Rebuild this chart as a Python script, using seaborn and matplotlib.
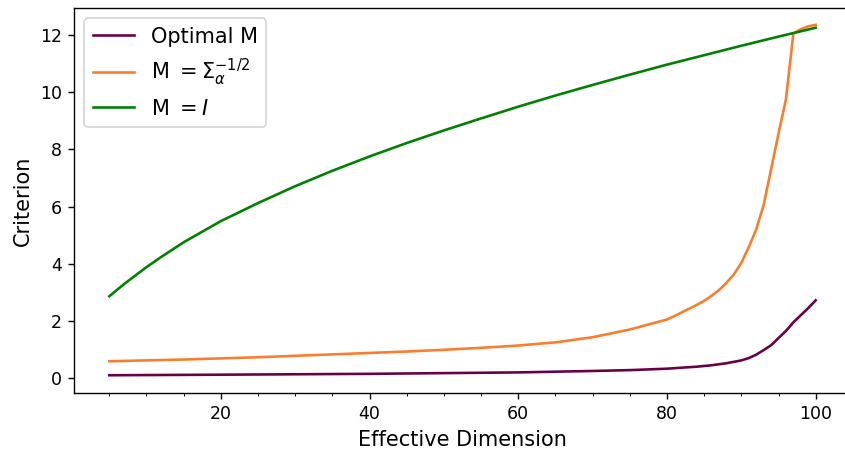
import matplotlib
matplotlib.use("Agg")
import matplotlib.pyplot as plt
from matplotlib.ticker import MultipleLocator
import seaborn as sns
import pandas as pd

# Effective dimension samples
x_green = [5, 6, 7, 8, 10, 12, 15, 20, 25, 30, 35, 40, 45, 50, 55, 60, 65, 70, 75, 80, 85, 90, 95, 100]
y_green = [2.86, 3.08, 3.29, 3.49, 3.88, 4.24, 4.75, 5.49, 6.12, 6.71, 7.25, 7.75, 8.22, 8.66, 9.08,
           9.49, 9.88, 10.25, 10.61, 10.96, 11.29, 11.62, 11.94, 12.25]

x_orange = [5, 10, 15, 20, 25, 30, 35, 40, 45, 50, 55, 60, 65, 70, 75, 80, 81, 82, 83, 84, 85,
            86, 87, 88, 89, 90, 91, 92, 93, 94, 95, 96, 97, 98, 99, 100]
y_orange = [0.59, 0.62, 0.65, 0.69, 0.73, 0.78, 0.83, 0.88, 0.93, 0.99, 1.06, 1.14, 1.25, 1.43,
            1.7, 2.05, 2.17, 2.3, 2.43, 2.56, 2.7, 2.88, 3.08, 3.33, 3.63, 4.03, 4.58, 5.2,
            6.05, 7.3, 8.55, 9.75, 12.05, 12.2, 12.3, 12.35]

x_purple = [5, 20, 40, 60, 70, 75, 80, 84, 86, 88, 90, 91, 92, 93, 94, 95, 96, 97, 98, 99, 100]
y_purple = [0.1, 0.12, 0.15, 0.2, 0.25, 0.28, 0.33, 0.4, 0.45, 0.52, 0.62, 0.7, 0.82, 0.98,
            1.15, 1.4, 1.65, 1.95, 2.2, 2.45, 2.72]

labels = ["Optimal M", r"M $= \Sigma_{\alpha}^{-1/2}$", r"M $= I$"]
colors = ["#670045", "#fb7d2b", "#008000"]

df = pd.concat([
    pd.DataFrame({"dim": x_purple, "crit": y_purple, "series": labels[0]}),
    pd.DataFrame({"dim": x_orange, "crit": y_orange, "series": labels[1]}),
    pd.DataFrame({"dim": x_green, "crit": y_green, "series": labels[2]}),
], ignore_index=True)

fig = plt.figure(figsize=(845 / 125, 456 / 125), dpi=125)
ax = fig.add_axes([74 / 845, 1 - 393 / 456, (851 - 74) / 845, (393 - 8) / 456])
sns.lineplot(data=df, x="dim", y="crit", hue="series", hue_order=labels,
             palette=dict(zip(labels, colors)), ax=ax, linewidth=1.5, sort=False)

ax.set_xlim(0.25, 104.75)
ax.set_ylim(-0.52, 12.94)
ax.xaxis.set_major_locator(MultipleLocator(20))
ax.xaxis.set_minor_locator(MultipleLocator(5))
ax.set_yticks([0, 2, 4, 6, 8, 10, 12])
ax.tick_params(labelsize=10)
ax.set_xlabel("Effective Dimension", fontsize=12)
ax.set_ylabel("Criterion", fontsize=12)
leg = ax.legend(loc="upper left", fontsize=12)
leg.set_title(None)

fig.savefig("out.png", dpi=125)
